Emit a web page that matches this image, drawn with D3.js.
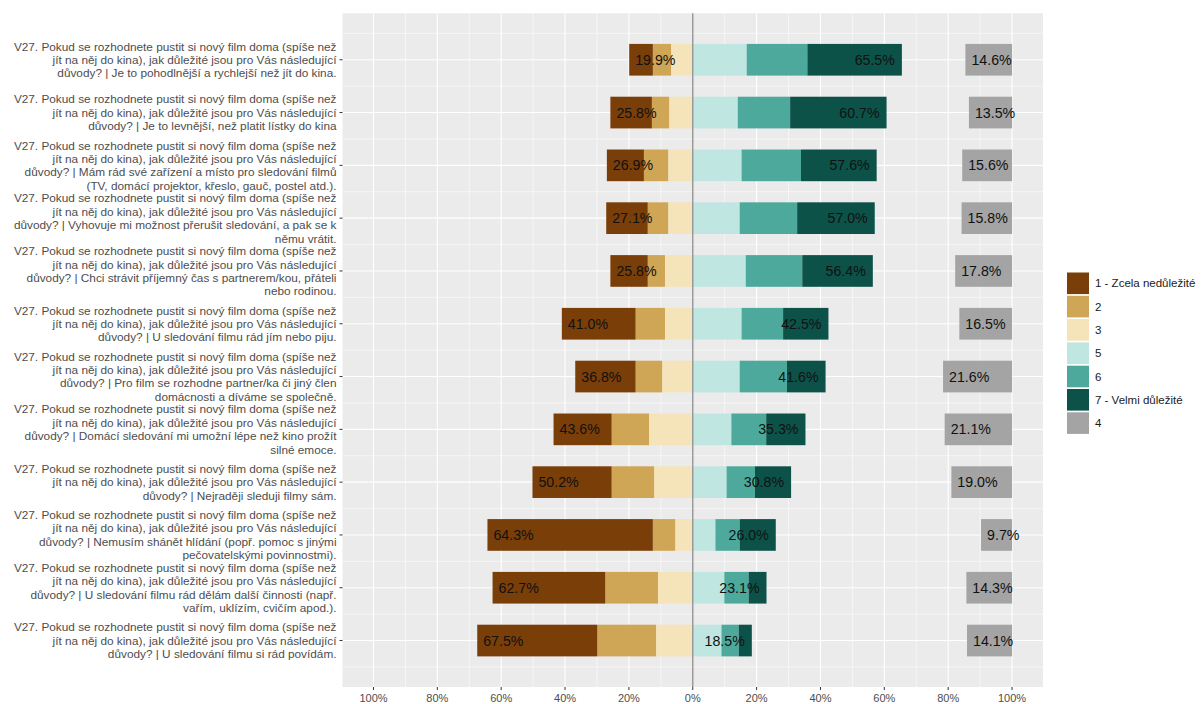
<!DOCTYPE html>
<html><head><meta charset="utf-8">
<script src="https://cdn.jsdelivr.net/npm/d3@7"></script>
<style>body{margin:0;background:#fff;font-family:"Liberation Sans",Arial,sans-serif}</style>
</head><body><svg id="c" width="1203" height="704"></svg>
<script>
const prefix = "V27. Pokud se rozhodnete pustit si nový film doma (spíše než\njít na něj do kina), jak důležité jsou pro Vás následující\n";
const categories = [
 prefix+"důvody? | Je to pohodlnější a rychlejší než jít do kina.",
 prefix+"důvody? | Je to levnější, než platit lístky do kina",
 prefix+"důvody? | Mám rád své zařízení a místo pro sledování filmů\n(TV, domácí projektor, křeslo, gauč, postel atd.).",
 prefix+"důvody? | Vyhovuje mi možnost přerušit sledování, a pak se k\nněmu vrátit.",
 prefix+"důvody? | Chci strávit příjemný čas s partnerem/kou, přáteli\nnebo rodinou.",
 prefix+"důvody? | U sledování filmu rád jím nebo piju.",
 prefix+"důvody? | Pro film se rozhodne partner/ka či jiný člen\ndomácnosti a díváme se společně.",
 prefix+"důvody? | Domácí sledování mi umožní lépe než kino prožít\nsilné emoce.",
 prefix+"důvody? | Nejraději sleduji filmy sám.",
 prefix+"důvody? | Nemusím shánět hlídání (popř. pomoc s jinými\npečovatelskými povinnostmi).",
 prefix+"důvody? | U sledování filmu rád dělám další činnosti (např.\nvařím, uklízím, cvičím apod.).",
 prefix+"důvody? | U sledování filmu si rád povídám."
];
// percentages per answer level
const v1 = [7.4,13.0,11.6,13.0,11.7,23.1,18.9,18.2,24.8,51.8,35.3,37.6];
const v2 = [5.7,5.4,7.6,6.4,5.4,9.2,8.3,11.7,13.3,7.0,16.5,18.4];
const v3 = [6.8,7.4,7.7,7.7,8.7,8.7,9.6,13.7,12.1,5.5,10.9,11.5];
const v5 = [16.9,14.1,15.3,14.7,16.6,15.3,14.7,12.1,10.6,7.1,9.9,9.0];
const v6 = [19.0,16.4,18.6,18.0,17.7,13.0,14.8,10.9,8.9,7.6,7.6,5.4];
const v7 = [29.6,30.2,23.7,24.3,22.1,14.2,12.1,12.3,11.3,11.3,5.6,4.1];
const v4 = [14.6,13.5,15.6,15.8,17.8,16.5,21.6,21.1,19.0,9.7,14.3,14.1];
const levels = ["1 - Zcela nedůležité","2","3","5","6","7 - Velmi důležité","4"];
const colors = ["#7a3e09","#cfa556","#f5e4b9","#bfe6e1","#4da99c","#0c5249","#a4a4a4"];
const xTicks = [-100,-80,-60,-40,-20,0,20,40,60,80,100];

const svg = d3.select("#c");
const P = {l:342.5, r:1043, t:13.3, b:687};
const x = d3.scaleLinear().domain([-109.7,109.7]).range([P.l,P.r]);
const y = d3.scalePoint().domain(d3.range(categories.length)).range([P.t,P.b]).padding(0.88);
const step = y.step(), bh = step*0.6;

svg.append("rect").attr("x",P.l).attr("y",P.t).attr("width",P.r-P.l).attr("height",P.b-P.t).attr("fill","#ebebeb");
// minor grid
const g = svg.append("g");
d3.range(-110,111,20).forEach(v=>{ if(x(v)>P.l && x(v)<P.r) g.append("line").attr("x1",x(v)).attr("x2",x(v)).attr("y1",P.t).attr("y2",P.b).attr("stroke","#fff").attr("stroke-width",0.55);});
const ys = d3.range(categories.length).map(i=>y(i));
[ys[0]-step/2].concat(ys.map(v=>v+step/2)).forEach(v=>{ if(v>P.t&&v<P.b) g.append("line").attr("x1",P.l).attr("x2",P.r).attr("y1",v).attr("y2",v).attr("stroke","#fff").attr("stroke-width",0.55);});
xTicks.forEach(v=>g.append("line").attr("x1",x(v)).attr("x2",x(v)).attr("y1",P.t).attr("y2",P.b).attr("stroke","#fff").attr("stroke-width",1.1));
ys.forEach(v=>g.append("line").attr("x1",P.l).attr("x2",P.r).attr("y1",v).attr("y2",v).attr("stroke","#fff").attr("stroke-width",1.1));

const bars = svg.append("g");
const labels = svg.append("g").attr("font-size","14.2px").attr("fill","#111");
categories.forEach((c,i)=>{
  const cy = y(i);
  const left = [[v3[i],2],[v2[i],1],[v1[i],0]];
  let cum = 0;
  left.forEach(([v,k])=>{ bars.append("rect").attr("x",x(-(cum+v))).attr("width",x(0)-x(-v)).attr("y",cy-bh/2).attr("height",bh).attr("fill",colors[k]); cum+=v;});
  const lsum = cum;
  const right = [[v5[i],3],[v6[i],4],[v7[i],5]];
  cum = 0;
  right.forEach(([v,k])=>{ bars.append("rect").attr("x",x(cum)).attr("width",x(v)-x(0)).attr("y",cy-bh/2).attr("height",bh).attr("fill",colors[k]); cum+=v;});
  const rsum = cum;
  bars.append("rect").attr("x",x(100-v4[i])).attr("width",x(v4[i])-x(0)).attr("y",cy-bh/2).attr("height",bh).attr("fill",colors[6]);
  labels.append("text").attr("x",x(-lsum)+6).attr("y",cy).attr("dy","0.36em").text(lsum.toFixed(1)+"%");
  labels.append("text").attr("x",x(rsum)-7).attr("y",cy).attr("dy","0.36em").attr("text-anchor","end").text(rsum.toFixed(1)+"%");
  labels.append("text").attr("x",x(100-v4[i])+6).attr("y",cy).attr("dy","0.36em").text(v4[i].toFixed(1)+"%");
});
// zero line
svg.append("line").attr("x1",x(0)).attr("x2",x(0)).attr("y1",P.t).attr("y2",P.b).attr("stroke","#999").attr("stroke-width",1.5);
svg.node().appendChild(labels.node());

// y axis
const ya = svg.append("g").attr("font-size","11.8px").attr("fill","#4d4d4d");
categories.forEach((c,i)=>{
  const lines = c.split("\n"), lh = 13.4, cy = y(i);
  const t = ya.append("text").attr("text-anchor","end");
  lines.forEach((ln,j)=>t.append("tspan").attr("x",336.5).attr("y",cy-(lines.length-1)*lh/2+j*lh).attr("dy","0.36em").text(ln));
  ya.append("line").attr("x1",339.5).attr("x2",342.5).attr("y1",cy).attr("y2",cy).attr("stroke","#333").attr("stroke-width",1);
});
// x axis
const xa = svg.append("g").attr("font-size","11px").attr("fill","#4d4d4d");
xTicks.forEach(v=>{
  xa.append("line").attr("x1",x(v)).attr("x2",x(v)).attr("y1",P.b).attr("y2",P.b+3).attr("stroke","#333");
  xa.append("text").attr("x",x(v)).attr("y",P.b+11).attr("dy","0.36em").attr("text-anchor","middle").text(Math.abs(v)+"%");
});
// legend
const lg = svg.append("g").attr("font-size","11.5px").attr("fill","#1a1a1a");
levels.forEach((l,i)=>{
  const cy = 283.3 + i*23.3;
  lg.append("rect").attr("x",1067).attr("y",cy-10.8).attr("width",22).attr("height",21.6).attr("fill",colors[i]);
  lg.append("text").attr("x",1095).attr("y",cy).attr("dy","0.36em").text(l);
});
</script></body></html>
